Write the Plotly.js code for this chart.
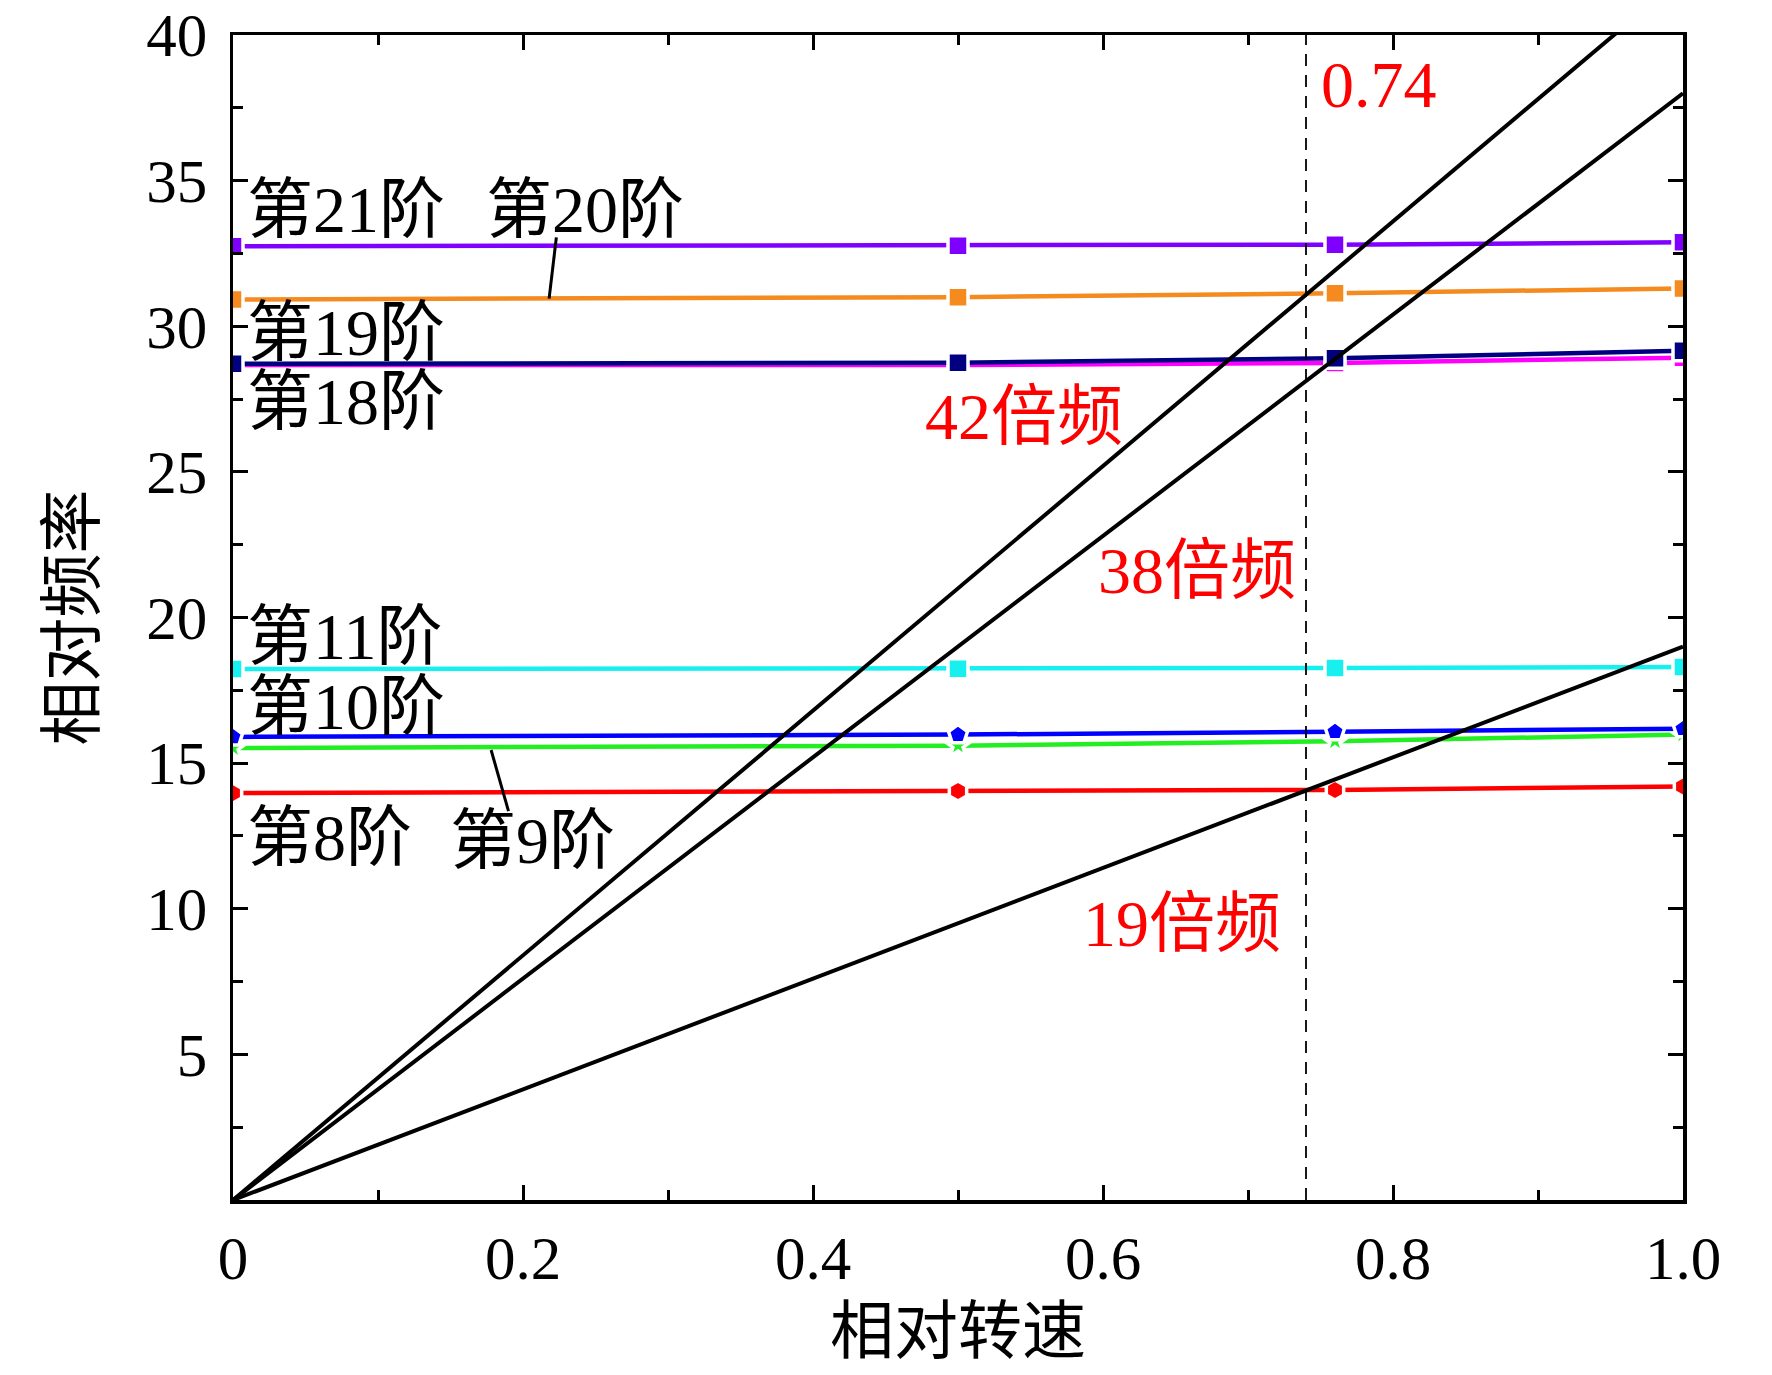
<!DOCTYPE html>
<html>
<head>
<meta charset="utf-8">
<script src="https://cdn.plot.ly/plotly-3.0.1.min.js"></script>
<style>html,body{margin:0;padding:0;background:#fff;}</style>
</head>
<body>
<div id="chart" style="width:1772px;height:1375px;"></div>
<script>
// ---- data ----
const speeds = [0, 0.5, 0.76, 1.0];
const mode8  = [13.97, 14.04, 14.08, 14.20];
const mode9  = [15.52, 15.60, 15.75, 15.98];
const mode10 = [15.90, 15.98, 16.08, 16.18];
const mode11 = [18.23, 18.24, 18.27, 18.30];
const mode18 = [28.67, 28.67, 28.74, 28.92];
const mode19 = [28.71, 28.75, 28.90, 29.16];
const mode20 = [30.92, 31.00, 31.13, 31.30];
const mode21 = [32.75, 32.76, 32.80, 32.88];
const harmonics = [42, 38, 19];
const lineSpeeds = [0, 1];
const crossSpeed = 0.74;
const freqRange = [0, 40];
const xTickVals = [0, 0.2, 0.4, 0.6, 0.8, 1.0];
const xTickText = ['0', '0.2', '0.4', '0.6', '0.8', '1.0'];
const yTickVals = [5, 10, 15, 20, 25, 30, 35, 40];
const yMinorVals = [2.5, 7.5, 12.5, 17.5, 22.5, 27.5, 32.5, 37.5];
const xMinorVals = [0.1, 0.3, 0.5, 0.7, 0.9];

const FONT = "'Liberation Serif', 'Times New Roman', 'Noto Sans CJK SC', serif";

const series = [
  {y: mode8,  color: '#FF0000', symbol: 'hexagon'},
  {y: mode9,  color: '#22EE22', symbol: 'star'},
  {y: mode10, color: '#0000FF', symbol: 'pentagon'},
  {y: mode11, color: '#18F0F0', symbol: 'square'},
  {y: mode18, color: '#FF00FF', symbol: 'square'},
  {y: mode19, color: '#000080', symbol: 'square'},
  {y: mode20, color: '#F58A1F', symbol: 'square'},
  {y: mode21, color: '#8000FF', symbol: 'square'}
];

const traces = [];
series.forEach(s => {
  traces.push({
    x: speeds, y: s.y, type: 'scatter', mode: 'lines+markers',
    line: {color: s.color, width: 4.5},
    marker: {symbol: s.symbol, size: 20, color: s.color, line: {color: '#ffffff', width: 3.5}},
    showlegend: false, hoverinfo: 'skip'
  });
});
harmonics.forEach(k => {
  traces.push({
    x: lineSpeeds, y: lineSpeeds.map(v => v * k), type: 'scatter', mode: 'lines',
    line: {color: '#000000', width: 4},
    showlegend: false, hoverinfo: 'skip'
  });
});
traces.push({
  x: [crossSpeed, crossSpeed], y: freqRange, type: 'scatter', mode: 'lines',
  line: {color: '#000000', width: 1.8, dash: '12px,9px'},
  showlegend: false, hoverinfo: 'skip'
});

const blackFont = {family: FONT, size: 66, color: '#000000'};
const redFont = {family: FONT, size: 66, color: '#FF0000'};
function ann(text, x, y, font) {
  return {text: text, x: x, y: y, xref: 'x', yref: 'y', xanchor: 'left', yanchor: 'middle',
          showarrow: false, font: font};
}
const annotations = [
  ann('第21阶', 0.008, 34.0, blackFont),
  ann('第20阶', 0.173, 34.0, blackFont),
  ann('第19阶', 0.008, 29.8, blackFont),
  ann('第18阶', 0.008, 27.4, blackFont),
  ann('第11阶', 0.008, 19.35, blackFont),
  ann('第10阶', 0.008, 16.95, blackFont),
  ann('第8阶', 0.008, 12.45, blackFont),
  ann('第9阶', 0.148, 12.35, blackFont),
  ann('42倍频', 0.476, 26.9, redFont),
  ann('38倍频', 0.595, 21.6, redFont),
  ann('19倍频', 0.585, 9.5, redFont),
  ann('0.74', 0.749, 38.3, redFont)
];

const shapes = [
  {type: 'line', xref: 'x', yref: 'y', x0: 0.223, y0: 33.05, x1: 0.218, y1: 30.95,
   line: {color: '#000', width: 3}},
  {type: 'line', xref: 'x', yref: 'y', x0: 0.178, y0: 15.45, x1: 0.190, y1: 13.35,
   line: {color: '#000', width: 3}}
];

const axisCommon = {
  showline: true, linecolor: '#000', linewidth: 3.5, mirror: 'allticks',
  ticks: 'inside', ticklen: 15, tickwidth: 3, tickcolor: '#000',
  showgrid: false, zeroline: false,
  tickfont: {family: FONT, size: 61, color: '#000'}
};

const layout = {
  width: 1772, height: 1375,
  margin: {l: 233, r: 89, t: 35, b: 175},
  paper_bgcolor: '#fff', plot_bgcolor: '#fff',
  font: {family: FONT, color: '#000'},
  xaxis: Object.assign({}, axisCommon, {
    range: [0, 1], tickmode: 'array', tickvals: xTickVals, ticktext: xTickText,
    minor: {tickmode: 'array', tickvals: xMinorVals, ticks: 'inside', ticklen: 10, tickwidth: 3, tickcolor: '#000'},
    ticklabelstandoff: 2,
    title: {text: '相对转速', font: {family: FONT, size: 64, color: '#000'}, standoff: 18}
  }),
  yaxis: Object.assign({}, axisCommon, {
    range: freqRange, tickmode: 'array', tickvals: yTickVals,
    minor: {tickmode: 'array', tickvals: yMinorVals, ticks: 'inside', ticklen: 10, tickwidth: 3, tickcolor: '#000'},
    ticklabelstandoff: 10,
    title: {text: '相对频率', font: {family: FONT, size: 64, color: '#000'}, standoff: 32}
  }),
  annotations: annotations,
  shapes: shapes
};

Plotly.newPlot('chart', traces, layout, {displayModeBar: false, staticPlot: true});
</script>
</body>
</html>
